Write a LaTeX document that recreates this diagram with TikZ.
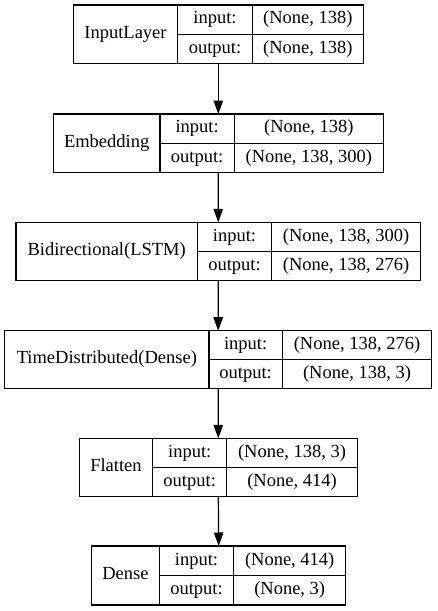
\documentclass[tikz,border=0pt]{standalone}
\usepackage{fontspec}
\setmainfont{Liberation Serif}
\usetikzlibrary{arrows.meta}
\tikzset{
  boxframe/.style={draw, line width=1.2pt, inner sep=0pt, outer sep=0pt},
  cellline/.style={line width=1.2pt},
  celltext/.style={inner sep=0pt, font=\fontsize{18.5}{20}\selectfont, text height=12.8pt, text depth=4.2pt, anchor=center},
  flow/.style={line width=1.2pt, -{Triangle[length=13.5pt,width=9.5pt]}},
}
\newcommand\LBio[2]{\def\LBin{#1}\def\LBout{#2}}
% #1 name, #2 left, #3 top, #4 right, #5 bottom, #6 divider1, #7 divider2, #8 title, #9 {in}{out}
\newcommand\layerbox[9]{%
  \LBio#9%
  \pgfmathsetmacro\LBw{#4-#2}%
  \pgfmathsetmacro\LBh{#5-#3}%
  \pgfmathsetmacro\LBm{(#3+#5)/2}%
  \pgfmathsetmacro\LBu{(#3+\LBm)/2}%
  \pgfmathsetmacro\LBd{(#5+\LBm)/2}%
  \pgfmathsetmacro\LBa{(#2+#6)/2}%
  \pgfmathsetmacro\LBb{(#6+#7)/2}%
  \pgfmathsetmacro\LBc{(#7+#4)/2}%
  \node[boxframe, anchor=north west, minimum width=\LBw pt, minimum height=\LBh pt] (#1) at (#2,#3) {};
  \draw[cellline] (#6,#3) -- (#6,#5);
  \draw[cellline] (#7,#3) -- (#7,#5);
  \draw[cellline] (#6,\LBm) -- (#4,\LBm);
  \node[celltext] (#1-title) at (\LBa,\LBm) {#8};
  \node[celltext] (#1-inl) at (\LBb,\LBu) {input:};
  \node[celltext] (#1-outl) at (\LBb,\LBd) {output:};
  \node[celltext] (#1-inv) at (\LBc,\LBu) {\LBin};
  \node[celltext] (#1-outv) at (\LBc,\LBd) {\LBout};
}
\begin{document}
\begin{tikzpicture}[x=1pt,y=-1pt]
  \useasboundingbox (0,0) rectangle (437,611);
  \layerbox{inp}{73.3}{5}{363.3}{63.3}{177.7}{252.3}{InputLayer}{{(None, 138)}{(None, 138)}}
  \layerbox{emb}{53.3}{114}{383.3}{172.7}{160}{234.3}{Embedding}{{(None, 138)}{(None, 138, 300)}}
  \layerbox{bid}{16}{222.3}{420.5}{280.7}{197.3}{271.7}{Bidirectional(LSTM)}{{(None, 138, 300)}{(None, 138, 276)}}
  \layerbox{tdd}{4.7}{330.7}{431.7}{388.3}{209}{282.3}{TimeDistributed(Dense)}{{(None, 138, 276)}{(None, 138, 3)}}
  \layerbox{flt}{79.3}{438.3}{357.3}{496.7}{152.7}{226.7}{Flatten}{{(None, 138, 3)}{(None, 414)}}
  \layerbox{dns}{91.7}{546}{345.7}{605}{159.3}{233.7}{Dense}{{(None, 414)}{(None, 3)}}
  \draw[flow] (inp.south) -- (emb.north);
  \draw[flow] (emb.south) -- (bid.north);
  \draw[flow] (bid.south) -- (tdd.north);
  \draw[flow] (tdd.south) -- (flt.north);
  \draw[flow] (flt.south) -- (dns.north);
\end{tikzpicture}
\end{document}
